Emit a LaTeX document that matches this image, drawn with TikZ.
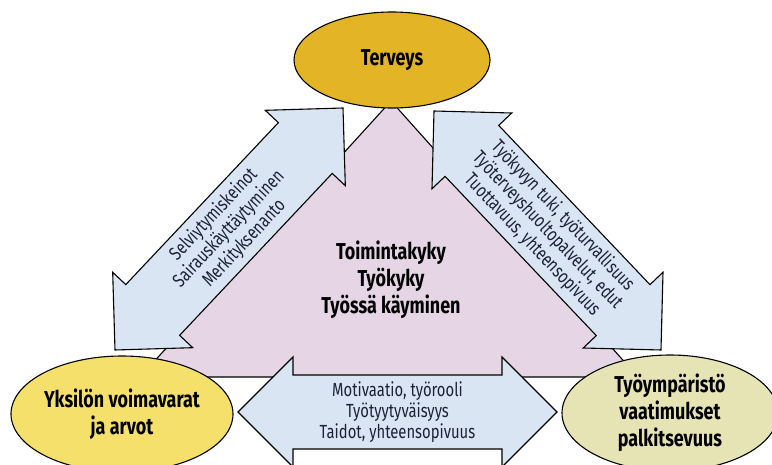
\documentclass[tikz,border=0pt]{standalone}
\usepackage{fontspec}
\setmainfont{Fira Sans}[FakeStretch=0.78]
\usetikzlibrary{calc}
\usetikzlibrary{shapes.geometric}

\definecolor{tervcol}{HTML}{E3B425}
\definecolor{yksicol}{HTML}{F4E06A}
\definecolor{ymparcol}{HTML}{E6E4B5}
\definecolor{arrowcol}{HTML}{DAE5F3}
\definecolor{trianglecol}{HTML}{E5D5E5}
\definecolor{inkcol}{HTML}{1C2136}

% double arrow between two tips
\newcommand{\dblarrow}[2]{%
  \coordinate (h1) at ($(#1)!55pt!(#2)$);
  \coordinate (h2) at ($(#2)!55pt!(#1)$);
  \draw[arrowbox] (#1) -- ($(h1)!55pt!90:(#2)$) -- ($(h1)!37pt!90:(#2)$)
    -- ($(h2)!37pt!-90:(#1)$) -- ($(h2)!55pt!-90:(#1)$) -- (#2)
    -- ($(h2)!55pt!90:(#1)$) -- ($(h2)!37pt!90:(#1)$)
    -- ($(h1)!37pt!-90:(#2)$) -- ($(h1)!55pt!-90:(#2)$) -- cycle;
}

\begin{document}
\begin{tikzpicture}[x=1pt,y=-1pt,
    arrowbox/.style={draw=black,line width=1.1pt,fill=arrowcol,line join=miter},
    arrowtext/.style={align=center,text=inkcol,font=\fontsize{19}{21}\selectfont},
    blob/.style={ellipse,draw=black,line width=1.1pt,align=center,inner sep=0pt,
      font=\fontsize{23}{27}\selectfont\bfseries}]
        \useasboundingbox (0,0) rectangle (772,465);
        % triangle
        \draw[line width=1.1pt,fill=trianglecol] (140,377)--(391,101)--(638,377)--cycle;
        \node[font=\fontsize{23}{27}\selectfont\bfseries,align=center] (kyky) at (391,280) {Toimintakyky\\Työkyky\\Työssä käyminen};
        % arrows
        \coordinate (L1) at (115,350);
        \coordinate (L2) at (343,108);
        \coordinate (R1) at (434,111);
        \coordinate (R2) at (661,350);
        \coordinate (B1) at (238,412);
        \coordinate (B2) at (557,412);
        \dblarrow{L1}{L2}
        \dblarrow{R1}{R2}
        \dblarrow{B1}{B2}
        \path (L1)--(L2) node[midway,sloped,arrowtext] (keinot) {Selviytymiskeinot\\Sairauskäyttäytyminen\\Merkityksenanto};
        \path (R1)--(R2) node[midway,sloped,arrowtext] (tuki) {Työkyvyn tuki, työturvallisuus\\Työterveyshuoltopalvelut, edut\\Tuottavuus, yhteensopivuus};
        \path (B1)--(B2) node[midway,arrowtext] (motiv) {Motivaatio, työrooli\\Työtyytyväisyys\\Taidot, yhteensopivuus};
        % ellipses
        \node[blob,fill=tervcol,minimum width=196,minimum height=96] (terveys) at (392,60) {Terveys};
        \node[blob,fill=yksicol,minimum width=222,minimum height=116] (yksilo) at (122,414) {Yksilön voimavarat\\ja arvot};
        \node[blob,fill=ymparcol,minimum width=216,minimum height=116] (ymparisto) at (670,413) {Työympäristö\\vaatimukset\\palkitsevuus};
    \end{tikzpicture}
\end{document}
